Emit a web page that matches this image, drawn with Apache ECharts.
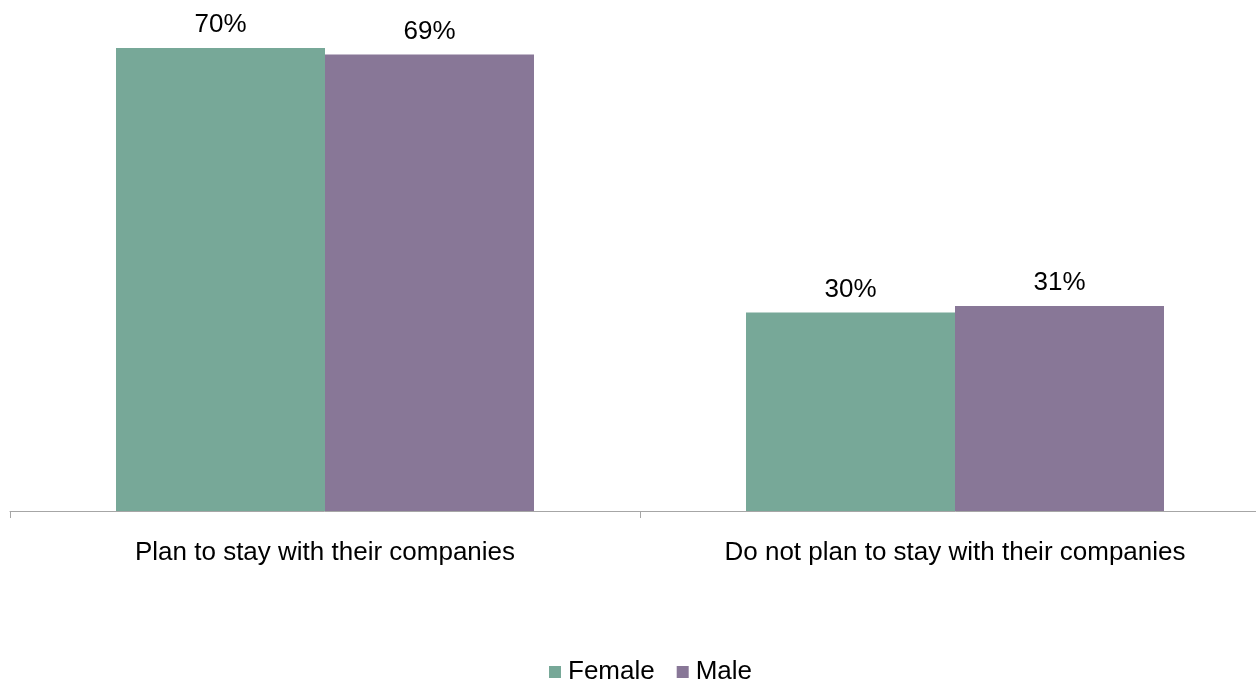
<!DOCTYPE html>
<html>
<head>
<meta charset="utf-8">
<script src="https://cdn.jsdelivr.net/npm/echarts@6/dist/echarts.min.js"></script>
<style>
  html, body { margin: 0; padding: 0; background: #ffffff; overflow: hidden; }
  /* the plot runs a little past the right edge of the window, so the canvas is wider than the view */
  #chart { width: 1270px; height: 683px; }
</style>
</head>
<body>
<div id="chart"></div>
<script>
// Share of respondents planning to stay with their current employer, by gender
const categories = ['Plan to stay with their companies', 'Do not plan to stay with their companies'];
const seriesNames = ['Female', 'Male'];
const femaleValues = [70, 30];
const maleValues = [69, 31];

const FONT = '"Liberation Sans", Arial, sans-serif';
const colors = ['#77A898', '#887797'];

const chart = echarts.init(document.getElementById('chart'), null, { renderer: 'canvas' });

const valueLabel = {
  show: true,
  position: 'top',
  distance: 10,
  formatter: p => p.value + '%',
  color: '#000000',
  fontFamily: FONT,
  fontSize: 26
};

chart.setOption({
  animation: false,
  backgroundColor: '#ffffff',
  color: colors,
  grid: { left: 10, right: 0, top: 48, bottom: 172, containLabel: false },
  legend: {
    data: seriesNames,
    top: 654,
    left: 544,
    icon: 'rect',
    itemWidth: 12,
    itemHeight: 12,
    itemGap: 22,
    textStyle: { fontFamily: FONT, fontSize: 26, color: '#000000', padding: [0, 0, 0, 2] }
  },
  xAxis: {
    type: 'category',
    data: categories,
    boundaryGap: true,
    axisLine: { show: true, lineStyle: { color: '#A6A6A6', width: 1 } },
    axisTick: { show: true, length: 7, lineStyle: { color: '#A6A6A6' } },
    axisLabel: { margin: 29, fontFamily: FONT, fontSize: 26, color: '#000000', interval: 0 }
  },
  yAxis: {
    type: 'value',
    min: 0,
    max: 70,
    show: false,
    splitLine: { show: false }
  },
  series: [
    {
      name: seriesNames[0],
      type: 'bar',
      data: femaleValues,
      barWidth: 209,
      barGap: '0%',
      label: valueLabel
    },
    {
      name: seriesNames[1],
      type: 'bar',
      data: maleValues,
      barWidth: 209,
      barGap: '0%',
      label: valueLabel
    }
  ]
});
</script>
</body>
</html>
